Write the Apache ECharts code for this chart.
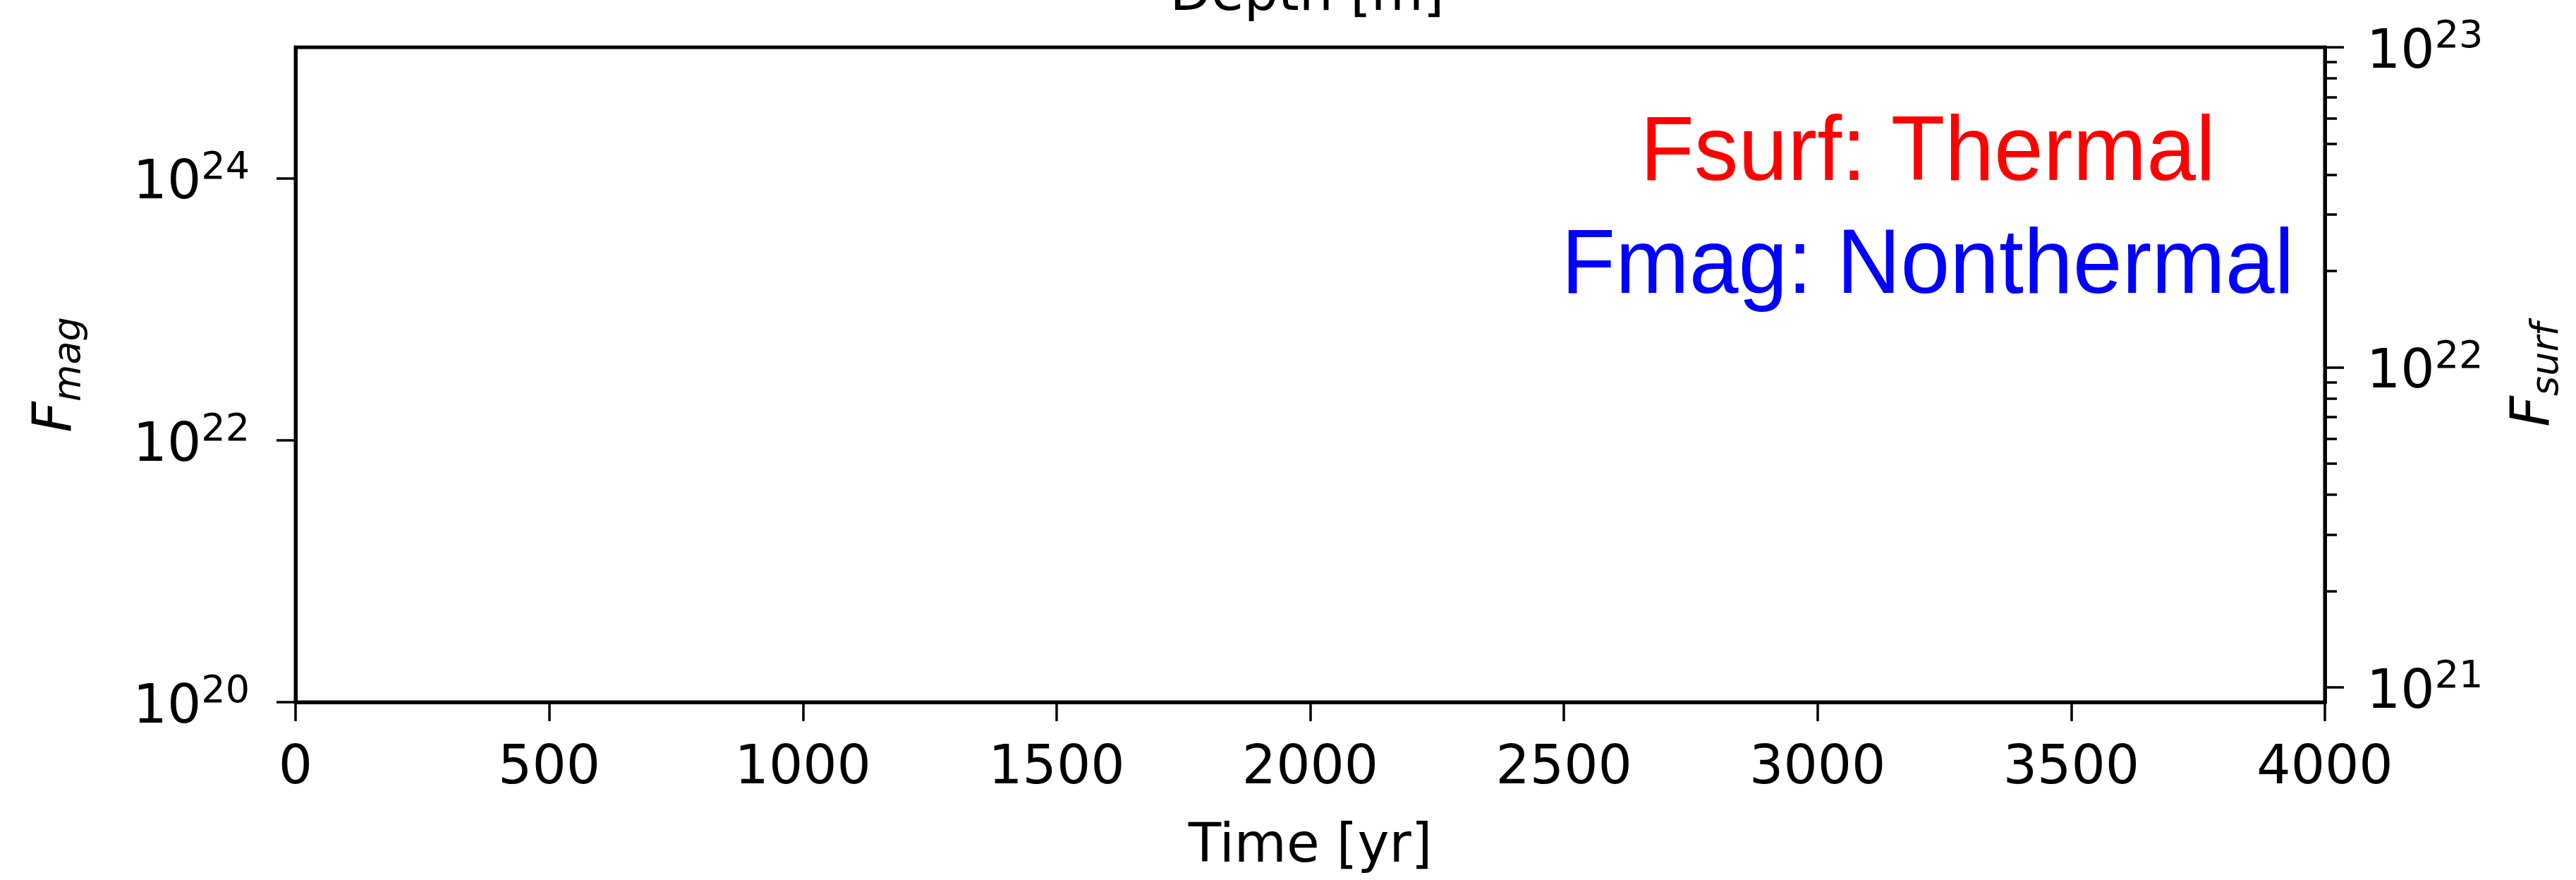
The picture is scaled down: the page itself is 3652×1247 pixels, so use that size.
<!DOCTYPE html>
<html><head><meta charset="utf-8">
<script src="https://cdn.jsdelivr.net/npm/echarts@6/dist/echarts.min.js"></script>
<style>html,body{margin:0;padding:0;background:#fff}#c{width:3652px;height:1247px}</style>
</head><body><div id="c"></div>
<script>
// ---- data (the reference plot area is empty: no plotted samples) ----
const timeValues = [];
const fmagValues = [];
const fsurfValues = [];

// ---- axes ----
const timeRange = [0, 4000];
const timeInterval = 500;
const fmagRange = [1e20, 1.000001e25];
const fsurfRange = [9e20, 1.000001e23];
const fmagTickExponents = [20, 22, 24];
const fsurfTickExponents = [21, 22, 23];
const fsurfMinorTicks = [9e20, 2e21, 3e21, 4e21, 5e21, 6e21, 7e21, 8e21, 9e21,
                         2e22, 3e22, 4e22, 5e22, 6e22, 7e22, 8e22, 9e22];

// ---- text ----
const titleText = 'Depth [m]';
const xName = 'Time [yr]';
const leftName = ['F', 'mag'];
const rightName = ['F', 'surf'];
const notes = [
  { text: 'Fsurf: Thermal', color: '#ff0000' },
  { text: 'Fmag: Nonthermal', color: '#0000ff' }
];

const FONT = 'DejaVu Sans';
const chart = echarts.init(document.getElementById('c'));

const supRich = {
  b: { fontFamily: FONT, fontSize: 76, lineHeight: 76, padding: [18, 0, 0, 0], color: '#000' },
  s: { fontFamily: FONT, fontSize: 54, lineHeight: 54, padding: [0, 0, 28, 0], color: '#000' }
};
const nameRich = {
  f: { fontFamily: FONT, fontStyle: 'italic', fontSize: 76, lineHeight: 76, color: '#000' },
  s: { fontFamily: FONT, fontStyle: 'italic', fontSize: 54, lineHeight: 54, padding: [36, 0, 0, 0], color: '#000' }
};
const pow10 = e => Math.pow(10, e);
const expLabel = v => '{b|10}{s|' + Math.round(Math.log10(v)) + '}';

const axisLine = { show: true, onZero: false, lineStyle: { color: '#000', width: 5 } };
const tickStyle = { color: '#000', width: 3.5 };
const gridRect = { left: 419, right: 356, top: 67, bottom: 252, containLabel: false, outerBoundsMode: 'none' };

function zipXY(xs, ys) { return xs.map((x, i) => [x, ys[i]]); }

chart.setOption({
  animation: false,
  backgroundColor: '#fff',
  grid: [
    Object.assign({ show: true, borderColor: '#000', borderWidth: 5, backgroundColor: 'transparent' }, gridRect),
    Object.assign({ show: false }, gridRect)
  ],
  xAxis: [
    {
      gridIndex: 0, type: 'value', min: timeRange[0], max: timeRange[1], interval: timeInterval,
      axisLine: axisLine,
      axisTick: { show: true, length: 27, lineStyle: tickStyle },
      axisLabel: { fontFamily: FONT, fontSize: 76, color: '#000', margin: 57, formatter: v => String(v) },
      splitLine: { show: false },
      name: xName, nameLocation: 'middle', nameGap: 168,
      nameTextStyle: { fontFamily: FONT, fontSize: 76, color: '#000' }
    },
    {
      gridIndex: 1, type: 'value', min: timeRange[0], max: timeRange[1], show: false
    }
  ],
  yAxis: [
    {
      gridIndex: 0, type: 'log', position: 'left', min: fmagRange[0], max: fmagRange[1],
      axisLine: axisLine,
      axisTick: { show: true, length: 27, lineStyle: tickStyle,
                  customValues: fmagTickExponents.map(pow10) },
      axisLabel: { customValues: fmagTickExponents.map(pow10), formatter: expLabel, rich: supRich, margin: 65 },
      splitLine: { show: false }, minorTick: { show: false },
      name: '{f|' + leftName[0] + '}{s|' + leftName[1] + '}',
      nameLocation: 'middle', nameRotate: 90, nameGap: 300,
      nameTextStyle: { rich: nameRich }
    },
    {
      gridIndex: 0, type: 'log', position: 'right', min: fsurfRange[0], max: fsurfRange[1],
      axisLine: axisLine,
      axisTick: { show: true, length: 27, lineStyle: tickStyle,
                  customValues: fsurfTickExponents.map(pow10) },
      axisLabel: { customValues: fsurfTickExponents.map(pow10), formatter: expLabel, rich: supRich, margin: 59 },
      splitLine: { show: false }, minorTick: { show: false },
      name: '{f|' + rightName[0] + '}{s|' + rightName[1] + '}',
      nameLocation: 'middle', nameRotate: 90, nameGap: 260,
      nameTextStyle: { rich: nameRich }
    },
    {
      gridIndex: 1, type: 'log', position: 'right', min: fsurfRange[0], max: fsurfRange[1],
      axisLine: { show: false, onZero: false },
      axisTick: { show: true, length: 17, lineStyle: tickStyle,
                  customValues: fsurfMinorTicks },
      axisLabel: { show: false },
      splitLine: { show: false }, minorTick: { show: false }
    }
  ],
  series: [
    { name: 'Fmag', type: 'line', xAxisIndex: 0, yAxisIndex: 0, showSymbol: false,
      lineStyle: { color: '#0000ff' }, data: zipXY(timeValues, fmagValues) },
    { name: 'Fsurf', type: 'line', xAxisIndex: 0, yAxisIndex: 1, showSymbol: false,
      lineStyle: { color: '#ff0000' }, data: zipXY(timeValues, fsurfValues) }
  ],
  graphic: [
    { type: 'text', x: 1853, y: -6, silent: true,
      style: { text: titleText, font: '76px "DejaVu Sans"', fill: '#000', textAlign: 'center', textVerticalAlign: 'middle' } },
    { type: 'text', x: 2733, y: 219, scaleX: 0.965, silent: true,
      style: { text: notes[0].text, font: '130px "Liberation Sans"', fill: notes[0].color, textAlign: 'center', textVerticalAlign: 'middle' } },
    { type: 'text', x: 2733, y: 379, scaleX: 0.965, silent: true,
      style: { text: notes[1].text, font: '130px "Liberation Sans"', fill: notes[1].color, textAlign: 'center', textVerticalAlign: 'middle' } }
  ]
});
</script>
</body></html>
